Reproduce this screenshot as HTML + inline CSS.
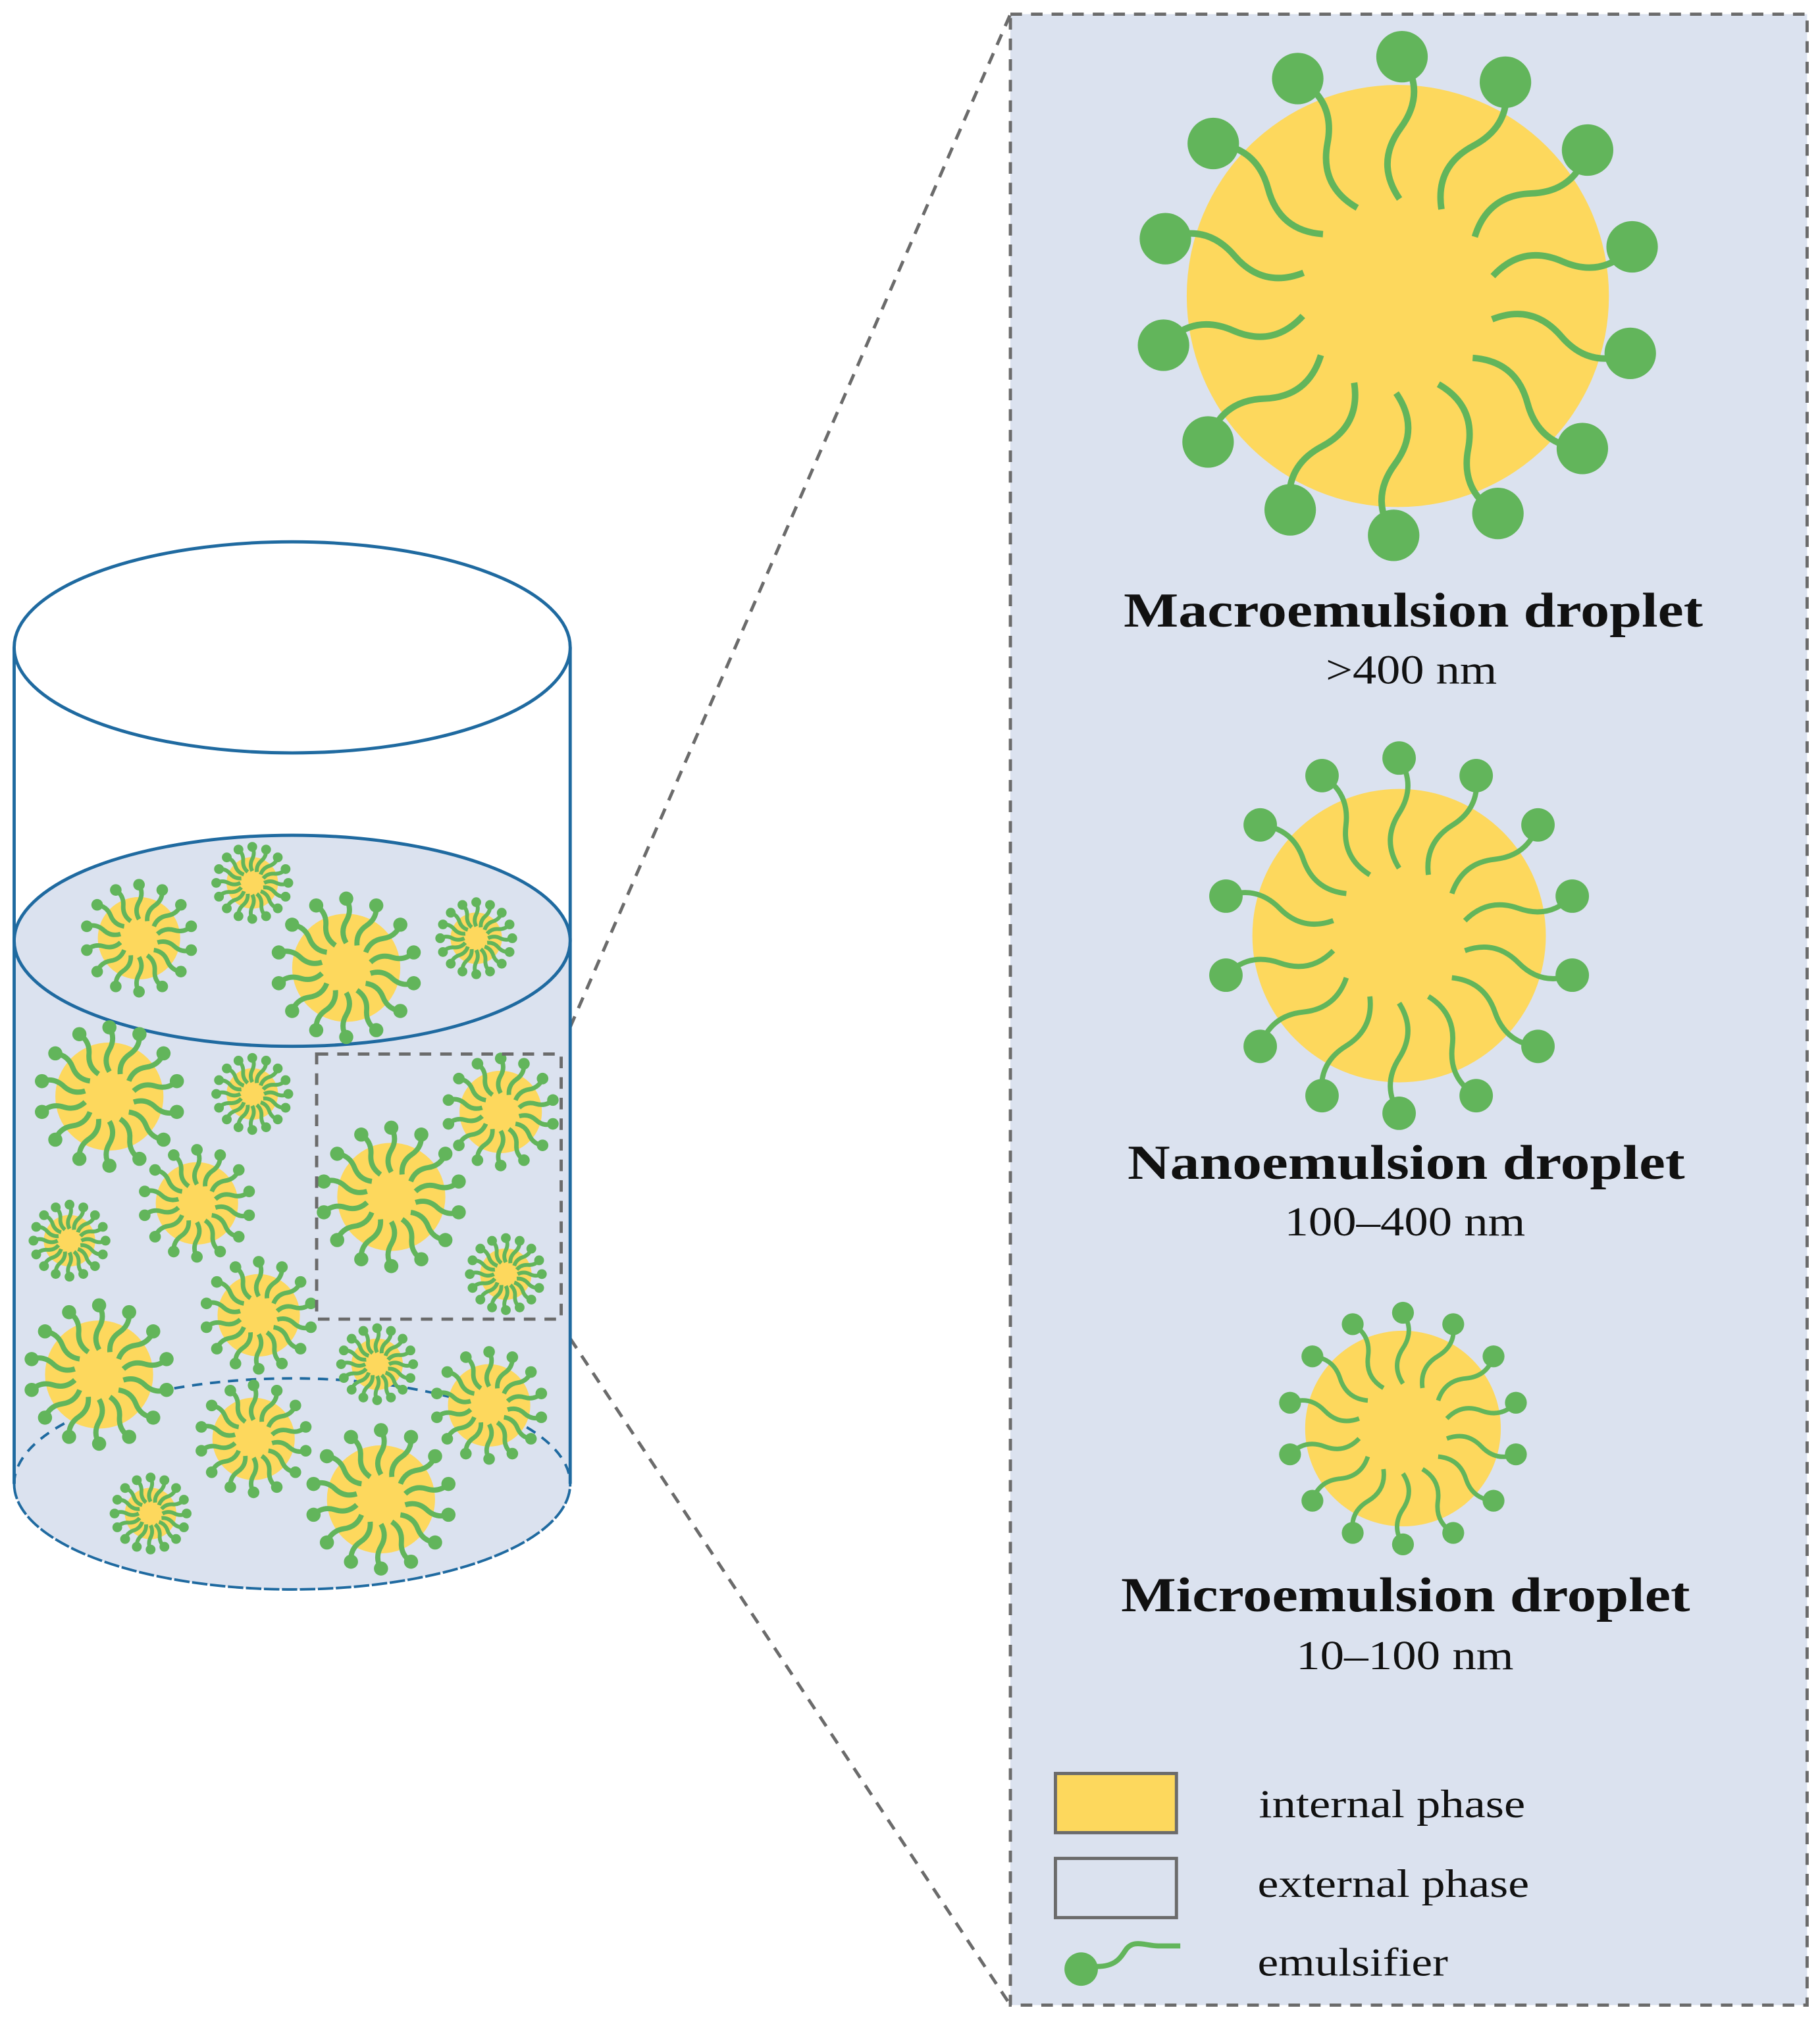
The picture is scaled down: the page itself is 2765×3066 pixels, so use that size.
<!DOCTYPE html>
<html><head><meta charset="utf-8"><style>html,body{margin:0;padding:0;background:#fff}svg{display:block}</style></head>
<body>
<svg id="s" xmlns="http://www.w3.org/2000/svg" width="2765" height="3066" viewBox="0 0 1414 1568" preserveAspectRatio="none">
<rect x="0" y="0" width="1414" height="1568" fill="#fff"/>
<rect x="785" y="11" width="619" height="1547" fill="#dbe2ef" stroke="#6b6b6b" stroke-width="2.5" stroke-dasharray="9,7"/>
<line x1="443" y1="798" x2="785" y2="11" stroke="#6b6b6b" stroke-width="2.5" stroke-dasharray="9,7"/>
<line x1="443" y1="1040" x2="785" y2="1558" stroke="#6b6b6b" stroke-width="2.5" stroke-dasharray="9,7"/>
<path d="M11,731 L11,1153 A216,82 0 0 0 443,1153 L443,731 Z" fill="#dbe2ef"/>
<path d="M11,1153 A216,82 0 0 1 443,1153" fill="none" stroke="#1f6aa0" stroke-width="2" stroke-dasharray="8,6"/>
<path d="M11,1153 A216,82 0 0 0 443,1153" fill="none" stroke="#1f6aa0" stroke-width="2" stroke-dasharray="12,2"/>
<line x1="11" y1="503" x2="11" y2="1153" stroke="#1f6aa0" stroke-width="2.5"/>
<line x1="443" y1="503" x2="443" y2="1153" stroke="#1f6aa0" stroke-width="2.5"/>
<ellipse cx="227" cy="503" rx="216" ry="82" fill="#fff" stroke="#1f6aa0" stroke-width="2.5"/>
<ellipse cx="227" cy="731" rx="216" ry="82" fill="#dbe2ef" stroke="#1f6aa0" stroke-width="2.5"/>
<g id="drops"></g>
<rect x="246" y="819" width="190" height="206" fill="none" stroke="#6b6b6b" stroke-width="2.5" stroke-dasharray="9,7"/>
<g id="big"></g>
<g font-family="'Liberation Serif', serif" fill="#111" text-anchor="start">
<text x="873" y="487" font-size="38" font-weight="bold" textLength="450" lengthAdjust="spacingAndGlyphs">Macroemulsion droplet</text>
<text x="1030" y="531" font-size="32" textLength="133" lengthAdjust="spacingAndGlyphs">&gt;400 nm</text>
<text x="876" y="916" font-size="38" font-weight="bold" textLength="433" lengthAdjust="spacingAndGlyphs">Nanoemulsion droplet</text>
<text x="998" y="960" font-size="32" textLength="187" lengthAdjust="spacingAndGlyphs">100–400 nm</text>
<text x="871" y="1252" font-size="38" font-weight="bold" textLength="442" lengthAdjust="spacingAndGlyphs">Microemulsion droplet</text>
<text x="1007" y="1297" font-size="32" textLength="169" lengthAdjust="spacingAndGlyphs">10–100 nm</text>
<text x="978" y="1412" font-size="31" textLength="207" lengthAdjust="spacingAndGlyphs">internal phase</text>
<text x="977" y="1474" font-size="31" textLength="211" lengthAdjust="spacingAndGlyphs">external phase</text>
<text x="977" y="1535" font-size="31" textLength="148" lengthAdjust="spacingAndGlyphs">emulsifier</text>
</g>
<rect x="820" y="1378" width="94" height="46" fill="#fdd85d" stroke="#6b6b6b" stroke-width="2.5"/>
<rect x="820" y="1444" width="94" height="46" fill="#dbe2ef" stroke="#6b6b6b" stroke-width="2.5"/>
<circle cx="840" cy="1530" r="13" fill="#62b55b"/>
<path d="M852,1528 C866,1528 870,1522 874,1516 C880,1506 890,1512 900,1512 L917,1512" fill="none" stroke="#62b55b" stroke-width="4"/>
</svg>
<script>
var NS="http://www.w3.org/2000/svg";
function drop(g,cx,cy,r,n,hr,sw,hd,a0){
  var c=document.createElementNS(NS,"circle");
  c.setAttribute("cx",cx);c.setAttribute("cy",cy);c.setAttribute("r",r);c.setAttribute("fill","#fdd85d");g.appendChild(c);
  for(var i=0;i<n;i++){
    var a=(a0+i*360/n)*Math.PI/180,ca=Math.cos(a),sa=Math.sin(a);
    var d0=hd,d1=r*0.46,dm=(d0+d1)/2,amp=r*0.075;
    function P(x,y){return (cx+x*ca-y*sa).toFixed(2)+","+(cy+x*sa+y*ca).toFixed(2);}
    var p=document.createElementNS(NS,"path");
    p.setAttribute("d","M"+P(d0,0)+" Q"+P((d0+dm)/2,amp*1.6)+" "+P(dm,0)+" Q"+P((dm+d1)/2,-amp*1.6)+" "+P(d1,0));
    p.setAttribute("fill","none");p.setAttribute("stroke","#62b55b");p.setAttribute("stroke-width",sw);
    g.appendChild(p);
    var h=document.createElementNS(NS,"circle");
    h.setAttribute("cx",(cx+hd*ca).toFixed(2));h.setAttribute("cy",(cy+hd*sa).toFixed(2));
    h.setAttribute("r",hr);h.setAttribute("fill","#62b55b");g.appendChild(h);
  }
}
var g=document.getElementById("drops");
var L=[[108,729,32],[196,686,20],[269,752,42],[370,729,20],[85,852,42],[196,850,20],[153,935,32],[54,964,20],
[389,864,32],[304,930,42],[201,1022,32],[393,990,20],[77,1068,42],[293,1060,20],[380,1092,32],[197,1118,32],[117,1176,20],[296,1165,42]];
L.forEach(function(d){
  var r=d[2];
  if(r==42) drop(g,d[0],d[1],r,14,5.5,4,r*1.28,-90);
  else if(r==32) drop(g,d[0],d[1],r,14,4.5,3.5,r*1.3,-90);
  else drop(g,d[0],d[1],r,16,3.8,3,r*1.4,-90);
});
var b=document.getElementById("big");
drop(b,1086,230,164,14,20,5,186,-89);
drop(b,1087,727,114,14,13,4,138,-90);
drop(b,1090,1110,76,14,8.5,3.5,90,-90);
</script>
</body></html>
